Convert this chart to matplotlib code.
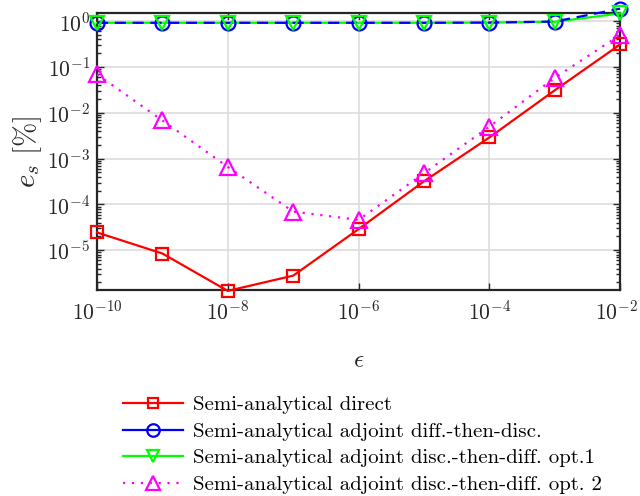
import numpy as np
import matplotlib
matplotlib.use("Agg")
import matplotlib.pyplot as plt
import matplotlib.transforms as mtransforms
from matplotlib.lines import Line2D
from matplotlib.ticker import FixedLocator, NullLocator, NullFormatter

plt.rcParams["font.family"] = "serif"
plt.rcParams["font.serif"] = ["cmr10"]
plt.rcParams["mathtext.fontset"] = "cm"
plt.rcParams["axes.formatter.use_mathtext"] = True

# Perturbation step sizes
eps = [1e-10, 1e-9, 1e-8, 1e-7, 1e-6, 1e-5, 1e-4, 1e-3, 1e-2]

# Relative sensitivity error e_s [%] for each method
direct = [2.45e-5, 8.5e-6, 1.3e-6, 2.8e-6, 2.9e-5, 3.2e-4, 2.9e-3, 3.1e-2, 0.31]
adj_dtd = [0.92, 0.92, 0.92, 0.92, 0.92, 0.92, 0.93, 0.98, 1.87]
adj_opt1 = [0.92, 0.92, 0.92, 0.92, 0.92, 0.92, 0.93, 0.97, 1.47]
adj_opt2 = [0.069, 6.8e-3, 6.6e-4, 7.0e-5, 4.6e-5, 4.8e-4, 5.0e-3, 0.058, 0.5]

labels = [
    "Semi-analytical direct",
    "Semi-analytical adjoint diff.-then-disc.",
    "Semi-analytical adjoint disc.-then-diff. opt.1",
    "Semi-analytical adjoint disc.-then-diff. opt. 2",
]

x_ticks = [1e-10, 1e-8, 1e-6, 1e-4, 1e-2]
y_ticks = [1e-5, 1e-4, 1e-3, 1e-2, 1e-1, 1e0]

RED, BLUE, GREEN, MAG = (1, 0, 0), (0, 0, 1), (0, 1, 0), (1, 0, 1)
lw = 1.6
mew = 1.6

fig = plt.figure(figsize=(6.4, 4.96), dpi=100)
ax = fig.add_axes([0.1516, 0.415, 0.8174, 0.559])

# (values, colour, line style, marker, marker size, line zorder, marker zorder)
series = [
    (direct, RED, "-", "s", 8, 3, 3.5),
    (adj_opt1, GREEN, "-", "v", 10, 3, 5),
    (adj_dtd, BLUE, (0, (5, 3)), "o", 10, 4, 4.5),
    (adj_opt2, MAG, (0, (1, 3)), "^", 11, 3, 3.6),
]
for vals, col, ls, mk, ms, zl, zm in series:
    ax.plot(eps, vals, color=col, ls=ls, lw=lw, clip_on=False, zorder=zl)
    ax.plot(eps, vals, ls="none", marker=mk, ms=ms, mfc="none", mec=col,
            mew=mew, clip_on=False, zorder=zm)

ax.set_xscale("log")
ax.set_yscale("log")
ax.set_xlim(1e-10, 1e-2)
ax.set_ylim(10 ** -5.87, 10 ** 0.18)

ax.set_xticks(x_ticks)
ax.xaxis.set_minor_locator(NullLocator())
ax.yaxis.set_major_locator(FixedLocator(y_ticks))
minor_y = [m * 10.0 ** e for e in range(-6, 1) for m in range(2, 10)]
ax.yaxis.set_minor_locator(FixedLocator(minor_y))
ax.yaxis.set_minor_formatter(NullFormatter())

axcol = "#262626"
ax.tick_params(which="both", direction="in", top=True, right=True,
               colors=axcol, labelcolor=axcol, labelsize=15.5)
ax.tick_params(which="major", length=5, width=1)
ax.tick_params(which="minor", length=3, width=1)
ax.tick_params(axis="x", pad=7)
ax.tick_params(axis="y", pad=5)
for s in ax.spines.values():
    s.set_color(axcol)
    s.set_linewidth(1.6)

ax.grid(True, which="major", color="#dcdcdc", lw=1.2)
ax.set_axisbelow(True)

ax.set_xlabel(r"$\epsilon$", fontsize=18, color=axcol, labelpad=19)
ax.set_ylabel(r"$e_s\ [\%]$", fontsize=21, color=axcol, labelpad=2)

# keep the rightmost tick label inside the figure
fig.canvas.draw()
last = ax.get_xticklabels()[-1]
last.set_transform(last.get_transform()
                   + mtransforms.ScaledTranslation(-4 / 100, 0, fig.dpi_scale_trans))

handles = [
    Line2D([], [], color=RED, lw=lw, marker="s", ms=7, mfc="none", mew=mew),
    Line2D([], [], color=BLUE, lw=lw, marker="o", ms=9, mfc="none", mew=mew),
    Line2D([], [], color=GREEN, lw=lw, marker="v", ms=9, mfc="none", mew=mew),
    Line2D([], [], color=MAG, lw=lw, ls=(0, (1, 3)), marker="^", ms=10,
           mfc="none", mew=mew),
]
fig.legend(handles, labels, loc="upper left", bbox_to_anchor=(0.179, 0.219),
           frameon=False, fontsize=15, handlelength=2.9, handletextpad=0.45,
           labelspacing=0.38, borderaxespad=0)

fig.savefig("out.png", dpi=100)
